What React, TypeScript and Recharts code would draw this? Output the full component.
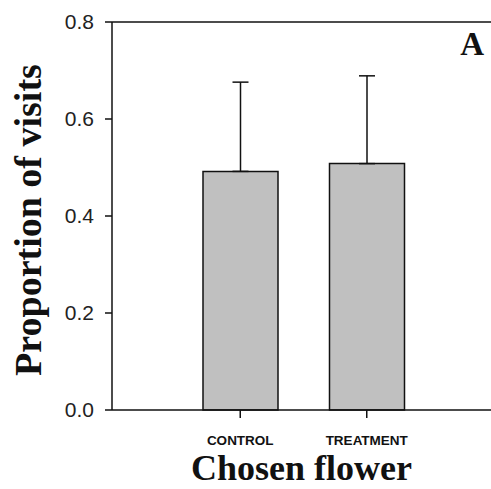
import React from 'react'
import { BarChart, Bar, XAxis, YAxis, ErrorBar, ReferenceLine } from 'recharts'

const flowers = ['CONTROL', 'TREATMENT']
const visits = [0.492, 0.508]
const visitsSE = [0.184, 0.181]
const yTicks = [0, 0.2, 0.4, 0.6, 0.8]

const data = flowers.map((name, i) => ({
  name,
  visits: visits[i],
  // error bar drawn upward only
  err: [0, visitsSE[i]],
}))

const serif = "'Times New Roman', 'Liberation Serif', serif"
const sans = "Arial, 'Liberation Sans', sans-serif"

const YTitle = (props: any) => {
  const { x, y, height } = props.viewBox
  const cx = x + 41
  const cy = y + height / 2 + 4
  return (
    <text
      x={cx}
      y={cy}
      transform={`rotate(-90, ${cx}, ${cy})`}
      textAnchor="middle"
      fontFamily={serif}
      fontWeight="bold"
      fontSize={38}
      fill="#111"
    >
      Proportion of visits
    </text>
  )
}

export default function App() {
  return (
    <div style={{ position: 'absolute', left: 0, top: 0, background: '#fff' }}>
      <BarChart
        width={491}
        height={489}
        data={data}
        margin={{ top: 22, right: 0, bottom: 0, left: 0 }}
        barSize={75}
      >
        <XAxis
          dataKey="name"
          height={79}
          padding={{ left: 65, right: 61 }}
          axisLine={{ stroke: '#111', strokeWidth: 1.5 }}
          tickLine={{ stroke: '#111', strokeWidth: 1.5 }}
          tickSize={8}
          tickMargin={17}
          tick={{ fill: '#111', fontFamily: sans, fontWeight: 'bold', fontSize: 13.5 }}
          label={{
            value: 'Chosen flower',
            position: 'insideBottom',
            offset: 9,
            fill: '#111',
            fontFamily: serif,
            fontWeight: 'bold',
            fontSize: 36,
          }}
        />
        <YAxis
          width={112}
          domain={[0, 0.8]}
          ticks={yTicks}
          tickFormatter={(v: number) => v.toFixed(1)}
          axisLine={{ stroke: '#111', strokeWidth: 1.5 }}
          tickLine={{ stroke: '#111', strokeWidth: 1.5 }}
          tickSize={7}
          tickMargin={11}
          tick={{ fill: '#222', fontFamily: sans, fontSize: 21 }}
          label={<YTitle />}
        />
        <ReferenceLine y={0.8} stroke="#111" strokeWidth={1.5} />
        <Bar
          dataKey="visits"
          fill="#c0c0c0"
          stroke="#111"
          strokeWidth={1.5}
          isAnimationActive={false}
        >
          <ErrorBar dataKey="err" direction="y" width={8} stroke="#111" strokeWidth={1.5} isAnimationActive={false} />
        </Bar>
        <text x={484} y={55} textAnchor="end" fontFamily={serif} fontWeight="bold" fontSize={33} fill="#111">
          A
        </text>
      </BarChart>
    </div>
  )
}
